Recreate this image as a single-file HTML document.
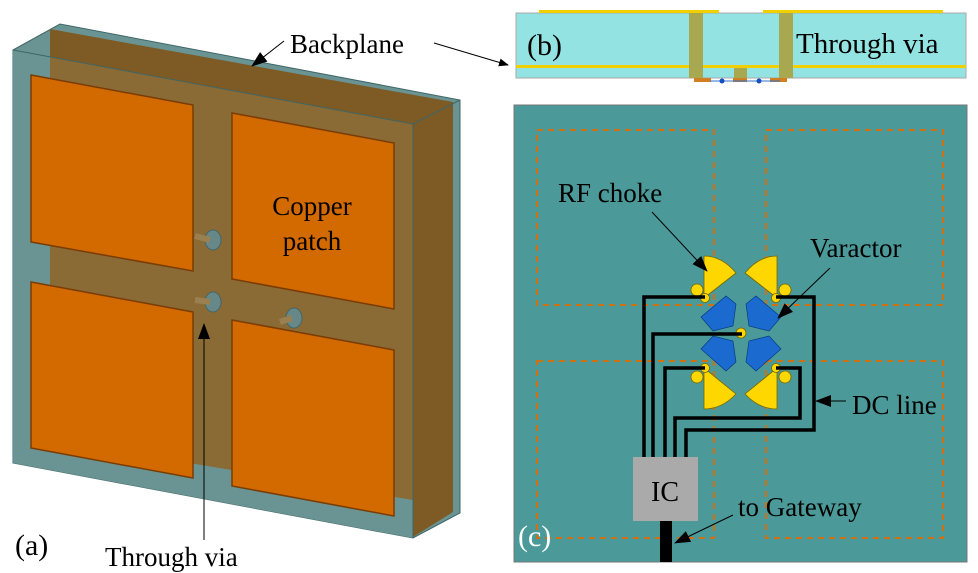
<!DOCTYPE html><html><head><style>body{margin:0;background:#fff}svg{display:block}</style></head><body>
<svg width="978" height="573" viewBox="0 0 978 573" xmlns="http://www.w3.org/2000/svg" font-family="'Liberation Serif', 'DejaVu Serif', serif">
<defs><marker id="ah" markerWidth="10" markerHeight="8" refX="9" refY="4" orient="auto" markerUnits="userSpaceOnUse"><path d="M0,0L10,4L0,8z" fill="#000"/></marker>
<marker id="ahb" markerWidth="16" markerHeight="12" refX="15" refY="6" orient="auto" markerUnits="userSpaceOnUse"><path d="M0,0L16,6L0,12z" fill="#000"/></marker></defs>
<!-- (a) -->
<polygon points="13,50 60,24 460,100 460,513 413,538 13,463" fill="#6a9494" stroke="#3f6666" stroke-width="1"/>
<polygon points="50,29 453,102 453,512 413,537 413,500 50,440" fill="#7e5a25"/>
<polygon points="50,57 413,124 413,520 50,455" fill="#8a6a35"/>
<polygon points="13,50 13,463 50,440 50,57" fill="#6a9494" opacity="0.9"/>
<polygon points="13,463 50,440 413,500 413,538" fill="#6a9494"/>
<line x1="13" y1="50" x2="413" y2="124" stroke="#3f6666"/><line x1="413" y1="124" x2="460" y2="100" stroke="#3f6666"/><line x1="413" y1="124" x2="413" y2="538" stroke="#3f6666"/>
<g fill="#688" stroke="#466"><ellipse cx="213" cy="240" rx="8" ry="10"/><ellipse cx="213" cy="302" rx="8" ry="10"/><ellipse cx="294" cy="318" rx="8" ry="10"/></g>
<g stroke="#9a8050" stroke-width="6"><line x1="195" y1="236" x2="210" y2="240"/><line x1="195" y1="300" x2="210" y2="302"/><line x1="280" y1="322" x2="292" y2="318"/></g>
<g fill="#d26a00" stroke="#7a3c00" stroke-width="1.5">
<polygon points="31,75 193,105 193,271 31,242"/><polygon points="232,113 394,143 394,309 232,279"/>
<polygon points="31,282 193,312 193,478 31,448"/><polygon points="232,320 394,350 394,516 232,486"/></g>
<text x="290" y="53" font-size="27">Backplane</text>
<line x1="284" y1="41" x2="252" y2="66" stroke="#000" marker-end="url(#ahb)"/>
<line x1="434" y1="43" x2="508" y2="65" stroke="#000" marker-end="url(#ah)"/>
<text x="312" y="215" font-size="27" text-anchor="middle">Copper</text>
<text x="312" y="250" font-size="27" text-anchor="middle">patch</text>
<text x="15" y="555" font-size="30">(a)</text>
<text x="105" y="566" font-size="27">Through via</text>
<line x1="204" y1="540" x2="204" y2="324" stroke="#000" marker-end="url(#ahb)"/>
<!-- (b) -->
<rect x="516" y="13" width="450" height="65" fill="#93e3e3" stroke="#aaa"/>
<rect x="539" y="10" width="180" height="3" fill="#f0d000"/><rect x="763" y="10" width="180" height="3" fill="#f0d000"/>
<rect x="516" y="65" width="450" height="3" fill="#f0d000"/>
<rect x="689" y="13" width="14" height="65" fill="#a8a850"/><rect x="779" y="13" width="14" height="65" fill="#a8a850"/><rect x="734" y="68" width="13" height="10" fill="#a8a850"/>
<g fill="#d08020"><rect x="694" y="78" width="17" height="4"/><rect x="733" y="78" width="14" height="4"/><rect x="770" y="78" width="17" height="4"/></g>
<path d="M710,81H780" stroke="#3070d0"/><circle cx="722" cy="81" r="2.5" fill="#1050c0"/><circle cx="759" cy="81" r="2.5" fill="#1050c0"/>
<text x="527" y="55" font-size="30">(b)</text>
<text x="796" y="53" font-size="29">Through via</text>
<!-- (c) -->
<rect x="514" y="105" width="453" height="457" fill="#4b9a99" stroke="#777"/>
<g fill="none" stroke="#d07010" stroke-width="2" stroke-dasharray="6,5">
<rect x="537" y="130" width="177" height="175"/><rect x="766" y="130" width="177" height="175"/>
<rect x="537" y="361" width="177" height="177"/><rect x="766" y="361" width="177" height="177"/></g>
<g fill="#ffd700" stroke="#776600" stroke-width="0.8">
<path d="M704,298 L704,256 Q722,256 736,273Z"/><path d="M777,298 L777,256 Q759,256 745,273Z"/>
<path d="M704,368 L704,409 Q722,409 736,394Z"/><path d="M777,368 L777,409 Q759,409 745,394Z"/>
<circle cx="697" cy="290" r="6"/><circle cx="785" cy="290" r="6"/><circle cx="697" cy="377" r="6"/><circle cx="785" cy="377" r="6"/>
<circle cx="705" cy="298" r="4.5"/><circle cx="776" cy="298" r="4.5"/><circle cx="741" cy="333" r="5"/><circle cx="705" cy="368" r="4.5"/><circle cx="776" cy="368" r="4.5"/></g>
<g fill="#1a6ad0" stroke="#0a3a80" stroke-width="0.7">
<path d="M701,317 L726,296 L736,304 L733,326 L713,331Z"/><path d="M781,317 L756,296 L746,304 L749,326 L769,331Z"/>
<path d="M701,349 L726,371 L736,362 L733,341 L713,336Z"/><path d="M781,349 L756,371 L746,362 L749,341 L769,336Z"/></g>
<g fill="none" stroke="#000" stroke-width="3.5">
<path d="M705,297H644V457"/><path d="M742,334H653V457"/><path d="M705,368H665V457"/>
<path d="M776,297H814V430H686V457"/><path d="M776,368H800V418H675V457"/></g>
<rect x="633" y="457" width="65" height="64" fill="#aaa"/>
<rect x="660" y="521" width="12" height="41" fill="#000"/>
<text x="665" y="501" font-size="28" text-anchor="middle">IC</text>
<text x="518" y="546" font-size="30" fill="#fff">(c)</text>
<text x="558" y="202" font-size="27">RF choke</text>
<line x1="652" y1="212" x2="707" y2="271" stroke="#000" marker-end="url(#ahb)"/>
<text x="810" y="257" font-size="27">Varactor</text>
<line x1="830" y1="268" x2="778" y2="318" stroke="#000" marker-end="url(#ahb)"/>
<text x="852" y="414" font-size="27">DC line</text>
<line x1="846" y1="401" x2="816" y2="401" stroke="#000" marker-end="url(#ahb)"/>
<text x="738" y="516" font-size="27">to Gateway</text>
<line x1="733" y1="515" x2="675" y2="543" stroke="#000" marker-end="url(#ahb)"/>
</svg></body></html>
